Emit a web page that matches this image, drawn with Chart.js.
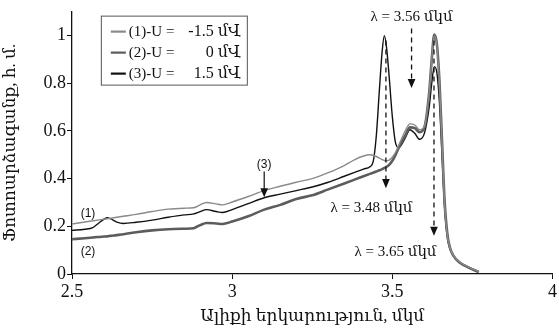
<!DOCTYPE html>
<html>
<head>
<meta charset="utf-8">
<script src="https://cdn.jsdelivr.net/npm/chart.js@4/dist/chart.umd.min.js"></script>
<style>
  html, body { margin: 0; padding: 0; background: #fff; }
  #wrap { width: 559px; height: 331px; }
</style>
</head>
<body>
<div id="wrap"><canvas id="c"></canvas></div>
<script>
// wavelength, um
const wavelength = [2.50, 2.54, 2.565, 2.58, 2.60, 2.61, 2.62, 2.64, 2.66, 2.70,
  2.75, 2.80, 2.85, 2.88, 2.90, 2.92, 2.95, 2.97, 3.00, 3.05,
  3.10, 3.15, 3.20, 3.25, 3.30, 3.35, 3.38, 3.41, 3.43, 3.44,
  3.45, 3.46, 3.468, 3.475, 3.482, 3.49, 3.50, 3.51, 3.52, 3.54,
  3.555, 3.57, 3.585, 3.60, 3.615, 3.623, 3.631, 3.639, 3.647, 3.655,
  3.663, 3.672, 3.68, 3.69, 3.71, 3.74, 3.77];

// (1) U = -1.5 V
const resp1 = [0.210, 0.218, 0.223, 0.226, 0.230, 0.232, 0.234, 0.238, 0.242, 0.250,
  0.262, 0.272, 0.276, 0.278, 0.290, 0.300, 0.294, 0.290, 0.302, 0.325,
  0.350, 0.368, 0.385, 0.400, 0.425, 0.455, 0.478, 0.495, 0.500, 0.498,
  0.493, 0.486, 0.480, 0.476, 0.475, 0.478, 0.490, 0.510, 0.540, 0.600,
  0.630, 0.625, 0.605, 0.620, 0.760, 0.900, 1.000, 0.960, 0.800, 0.550,
  0.300, 0.160, 0.110, 0.080, 0.050, 0.028, 0.010];

// (2) U = 0 V
const resp2 = [0.146, 0.150, 0.153, 0.155, 0.157, 0.158, 0.160, 0.163, 0.167, 0.175,
  0.183, 0.188, 0.190, 0.192, 0.205, 0.214, 0.212, 0.210, 0.220, 0.242,
  0.270, 0.290, 0.315, 0.330, 0.355, 0.380, 0.395, 0.410, 0.420, 0.425,
  0.430, 0.435, 0.440, 0.445, 0.450, 0.458, 0.475, 0.500, 0.530, 0.580,
  0.615, 0.612, 0.595, 0.615, 0.760, 0.900, 1.005, 0.965, 0.810, 0.560,
  0.310, 0.165, 0.110, 0.078, 0.048, 0.026, 0.008];

// (3) U = 1.5 V
const resp3 = [0.183, 0.188, 0.195, 0.210, 0.230, 0.236, 0.232, 0.218, 0.212, 0.217,
  0.226, 0.238, 0.248, 0.252, 0.262, 0.270, 0.262, 0.258, 0.270, 0.295,
  0.320, 0.335, 0.350, 0.365, 0.385, 0.410, 0.425, 0.440, 0.450, 0.470,
  0.580, 0.780, 0.930, 1.000, 0.950, 0.830, 0.660, 0.550, 0.530, 0.570,
  0.605, 0.590, 0.565, 0.590, 0.700, 0.800, 0.870, 0.845, 0.720, 0.500,
  0.280, 0.150, 0.105, 0.078, 0.050, 0.028, 0.010];

const seriesNames = ["(1)-U =", "(2)-U =", "(3)-U ="];
const seriesVolts = ["-1.5 մՎ", "0 մՎ", "1.5 մՎ"];
const seriesColors = ["#8a8a8a", "#5c5c5c", "#111111"];
const seriesWidths = [1.4, 2.6, 1.4];

// peak markers
const peakLabels = ["λ = 3.48 մկմ", "λ = 3.56 մկմ", "λ = 3.65 մկմ"];
const peakPos = [3.48, 3.56, 3.63];

const SERIF = "'Liberation Serif', 'DejaVu Serif', serif";

const toPts = (ys) => ys.map((y, i) => ({ x: wavelength[i], y }));

const arrowHead = (ctx, x, y, s) => {
  ctx.beginPath();
  ctx.moveTo(x, y);
  ctx.lineTo(x - s * 0.55, y - s * 1.3);
  ctx.lineTo(x + s * 0.55, y - s * 1.3);
  ctx.closePath();
  ctx.fill();
};

const dashedArrow = (ctx, x, y0, y1) => {
  ctx.save();
  ctx.setLineDash([5, 4]);
  ctx.lineWidth = 1.3;
  ctx.beginPath();
  ctx.moveTo(x, y0);
  ctx.lineTo(x, y1 - 7);
  ctx.stroke();
  ctx.restore();
  arrowHead(ctx, x, y1, 7);
};

const annotations = {
  id: "annotations",
  afterDatasetsDraw(chart) {
    const { ctx } = chart;
    const xs = chart.scales.x, ys = chart.scales.y;
    ctx.save();
    ctx.fillStyle = "#111";
    ctx.strokeStyle = "#111";

    // 3.48
    let px = xs.getPixelForValue(peakPos[0]);
    dashedArrow(ctx, px, ys.getPixelForValue(0.98), ys.getPixelForValue(0.36));
    // 3.56
    px = xs.getPixelForValue(peakPos[1]);
    dashedArrow(ctx, px, ys.getPixelForValue(1.03), ys.getPixelForValue(0.78));
    // 3.65
    px = xs.getPixelForValue(peakPos[2]);
    dashedArrow(ctx, px, ys.getPixelForValue(0.98), ys.getPixelForValue(0.16));

    ctx.font = "15px " + SERIF;
    ctx.textAlign = "center";
    ctx.textBaseline = "middle";
    ctx.fillText(peakLabels[0], xs.getPixelForValue(3.435), ys.getPixelForValue(0.275));
    ctx.fillText(peakLabels[1], xs.getPixelForValue(3.56), ys.getPixelForValue(1.078));
    ctx.fillText(peakLabels[2], xs.getPixelForValue(3.51), ys.getPixelForValue(0.092));

    // curve labels
    ctx.font = "12px 'Liberation Sans', Arial, sans-serif";
    ctx.fillText("(1)", xs.getPixelForValue(2.55), ys.getPixelForValue(0.255));
    ctx.fillText("(2)", xs.getPixelForValue(2.55), ys.getPixelForValue(0.092));
    ctx.fillText("(3)", xs.getPixelForValue(3.1), ys.getPixelForValue(0.46));
    const ax = xs.getPixelForValue(3.1);
    ctx.lineWidth = 1.2;
    ctx.beginPath();
    ctx.moveTo(ax, ys.getPixelForValue(0.43));
    ctx.lineTo(ax, ys.getPixelForValue(0.335));
    ctx.stroke();
    arrowHead(ctx, ax, ys.getPixelForValue(0.322), 7);

    // legend box
    const lx = xs.getPixelForValue(2.59), ly = ys.getPixelForValue(1.084);
    const lw = 146, lh = 69;
    ctx.fillStyle = "#fff";
    ctx.fillRect(lx, ly, lw, lh);
    ctx.strokeStyle = "#555";
    ctx.lineWidth = 1;
    ctx.strokeRect(lx + 0.5, ly + 0.5, lw, lh);
    ctx.textBaseline = "middle";
    seriesNames.forEach((name, i) => {
      const ry = ly + 16 + i * 21;
      ctx.strokeStyle = seriesColors[i];
      ctx.lineWidth = 2.2;
      ctx.beginPath();
      ctx.moveTo(lx + 10, ry);
      ctx.lineTo(lx + 25, ry);
      ctx.stroke();
      ctx.fillStyle = "#111";
      ctx.font = "15px " + SERIF;
      ctx.textAlign = "left";
      ctx.fillText(name, lx + 28, ry);
      ctx.font = "16px " + SERIF;
      ctx.textAlign = "right";
      ctx.fillText(seriesVolts[i], lx + lw - 6, ry);
    });
    ctx.restore();
  },
};

new Chart(document.getElementById("c"), {
  type: "line",
  data: {
    datasets: [resp1, resp2, resp3].map((ys, i) => ({
      label: seriesNames[i] + " " + seriesVolts[i],
      data: toPts(ys),
      borderColor: seriesColors[i],
      borderWidth: seriesWidths[i],
      pointRadius: 0,
      fill: false,
      cubicInterpolationMode: "monotone",
    })),
  },
  options: {
    responsive: true,
    maintainAspectRatio: false,
    animation: false,
    layout: { padding: { top: 10, right: 6, left: 0, bottom: 0 } },
    plugins: { legend: { display: false }, tooltip: { enabled: false } },
    scales: {
      x: {
        type: "linear",
        min: 2.5,
        max: 4,
        ticks: {
          stepSize: 0.5,
          color: "#111",
          font: { family: SERIF, size: 18 },
          padding: 2,
          maxRotation: 0,
          callback: (v) => String(Math.round(v * 10) / 10),
        },
        grid: { display: true, drawOnChartArea: false, drawTicks: true, tickLength: 5, color: "#111" },
        border: { display: true, color: "#111", width: 1.3 },
        title: {
          display: true,
          text: "Ալիքի երկարություն, մկմ",
          color: "#111",
          font: { family: SERIF, size: 17 },
          padding: { top: 0, bottom: 4 },
        },
        afterFit: (s) => { s.height = 57; },
      },
      y: {
        min: 0,
        max: 1.1,
        ticks: {
          stepSize: 0.2,
          color: "#111",
          font: { family: SERIF, size: 18 },
          padding: 1,
          callback: (v) => String(Math.round(v * 10) / 10),
        },
        afterBuildTicks: (s) => { s.ticks = s.ticks.filter((t) => t.value <= 1.0001); },
        grid: { display: true, drawOnChartArea: false, drawTicks: true, tickLength: 5, color: "#111" },
        border: { display: true, color: "#111", width: 1.3 },
        title: {
          display: true,
          text: "Ֆոտոարձագանք, հ. մ.",
          color: "#111",
          font: { family: SERIF, size: 17 },
          padding: { top: 0, bottom: 0 },
        },
        afterFit: (s) => { s.width = 72; },
      },
    },
  },
  plugins: [annotations],
});
</script>
</body>
</html>
